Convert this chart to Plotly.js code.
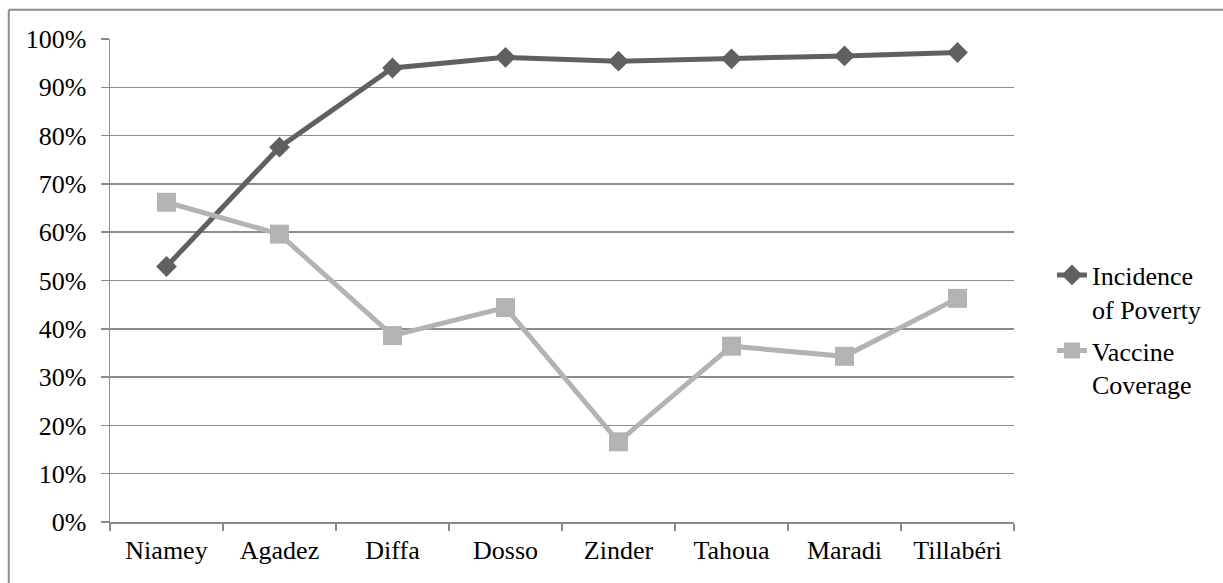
<!DOCTYPE html>
<html>
<head>
<meta charset="utf-8">
<script src="https://cdn.plot.ly/plotly-3.0.1.min.js"></script>
<style>
  html, body { margin: 0; padding: 0; background: #ffffff; overflow: hidden; }
  #chart { position: absolute; left: 0; top: 0; width: 1223px; height: 583px; }
</style>
</head>
<body>
<div id="chart"></div>
<script>
// Regions of Niger
const regions = ["Niamey", "Agadez", "Diffa", "Dosso", "Zinder", "Tahoua", "Maradi", "Tillabéri"];

// Share of the population living in poverty
const povertyIncidence = [0.529, 0.776, 0.940, 0.962, 0.954, 0.959, 0.965, 0.972];

// Share of children with full vaccine coverage
const vaccineCoverage = [0.662, 0.596, 0.386, 0.444, 0.166, 0.364, 0.343, 0.463];

const yTicks = [0, 0.1, 0.2, 0.3, 0.4, 0.5, 0.6, 0.7, 0.8, 0.9, 1.0];

const gridColor = "#8c8c8c";

const traces = [
  {
    type: "scatter",
    mode: "lines+markers",
    name: "Incidence<br>of Poverty",
    legendgroup: "poverty",
    x: regions,
    y: povertyIncidence,
    line: { color: "#606060", width: 5 },
    marker: { symbol: "diamond", size: 16, color: "#606060" }
  },
  {
    type: "scatter",
    mode: "lines+markers",
    name: "Vaccine<br>Coverage",
    legendgroup: "vaccine",
    x: regions,
    y: vaccineCoverage,
    line: { color: "#b3b3b3", width: 5 },
    marker: { symbol: "square", size: 19, color: "#b3b3b3" }
  }
];

const layout = {
  width: 1223,
  height: 583,
  margin: { l: 110, r: 209, t: 39, b: 61 },
  showlegend: true,
  legend: {
    x: 1.042, xanchor: "left",
    y: 0.56, yanchor: "top",
    valign: "top",
    font: { family: "Liberation Serif", size: 26, color: "#000000" },
    tracegroupgap: 5
  },
  // outer chart frame: only its top and left edges fall inside the page
  shapes: [
    { type: "line", xref: "paper", yref: "paper", x0: -0.112, x1: 1.3, y0: 1.0607, y1: 1.0607,
      line: { color: gridColor, width: 2 } },
    { type: "line", xref: "paper", yref: "paper", x0: -0.112, x1: -0.112, y0: 1.0607, y1: -0.2,
      line: { color: gridColor, width: 2 } }
  ],
  xaxis: {
    type: "category",
    range: [-0.5, 7.5],
    showline: true,
    linecolor: gridColor,
    linewidth: 1.5,
    ticks: "outside",
    tickson: "boundaries",
    ticklen: 7,
    tickwidth: 1.5,
    tickcolor: gridColor,
    showgrid: false,
    zeroline: false,
    tickfont: { family: "Liberation Serif", size: 26, color: "#000000" },
    ticklabelstandoff: 4
  },
  yaxis: {
    range: [0, 1],
    tickvals: yTicks,
    tickformat: ".0%",
    showline: true,
    linecolor: gridColor,
    linewidth: 1.5,
    ticks: "outside",
    ticklen: 8,
    tickwidth: 1.5,
    tickcolor: gridColor,
    showgrid: true,
    gridcolor: gridColor,
    gridwidth: 1.5,
    zeroline: false,
    tickfont: { family: "Liberation Serif", size: 26, color: "#000000" },
    ticklabelstandoff: 9
  }
};

Plotly.newPlot("chart", traces, layout, { staticPlot: true });
</script>
</body>
</html>
